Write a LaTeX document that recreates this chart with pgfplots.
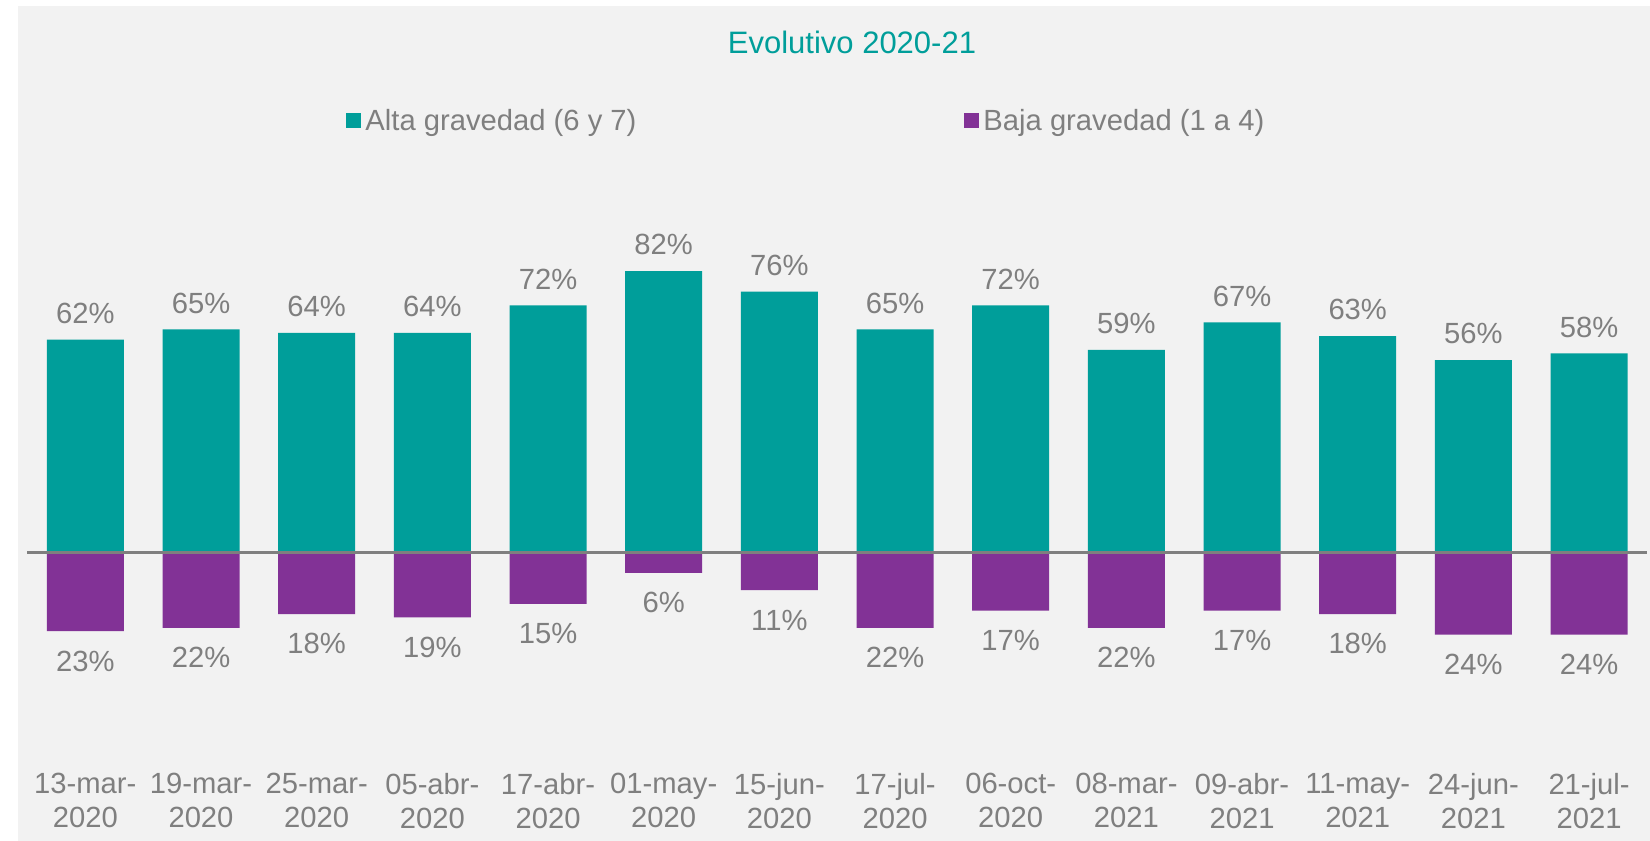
\documentclass[border=0pt]{standalone}
\usepackage{pgfplots}
\pgfplotsset{compat=1.18}
\usepackage{fontspec}
\setmainfont{Liberation Sans}

\definecolor{alta}{RGB}{0,158,154}
\definecolor{baja}{RGB}{130,50,150}
\definecolor{txt}{RGB}{127,127,127}
\definecolor{fondo}{RGB}{242,242,242}

\begin{document}
\begin{tikzpicture}
% page and panel background
\fill[white] (0,0) rectangle (825pt,420.5pt);
\fill[fondo] (9pt,0) rectangle (825pt,417.5pt);
\node[anchor=base, text=alta, font=\fontsize{15.5}{18}\selectfont, inner sep=0pt]
  at (426pt,393.6pt) {Evolutivo 2020-21};

\begin{axis}[
    at={(13.75pt,92.9pt)}, anchor=south west,
    scale only axis,
    width=809.7pt, height=205.8pt,
    xmin=-0.5, xmax=13.5,
    ymin=-30, ymax=90,
    ybar, bar width=38.5pt, bar shift=0pt,
    axis line style={draw=none},
    tick style={draw=none},
    ytick=\empty,
    xtick={0,...,13},
    xticklabels={{13-mar-\\2020},{19-mar-\\2020},{25-mar-\\2020},{05-abr-\\2020},
        {17-abr-\\2020},{01-may-\\2020},{15-jun-\\2020},{17-jul-\\2020},
        {06-oct-\\2020},{08-mar-\\2021},{09-abr-\\2021},{11-may-\\2021},
        {24-jun-\\2021},{21-jul-\\2021}},
    xticklabel style={align=center, font=\fontsize{14.6}{17.2}\selectfont,
        text=txt, anchor=north, yshift=-54.4pt, inner sep=0pt},
    clip=false,
    /pgf/number format/assume math mode=true,
    nodes near coords={\pgfmathprintnumber{\pgfplotspointmeta}\%},
    every node near coord/.append style={font=\fontsize{14.6}{16.5}\selectfont,
        text=txt, inner sep=0pt},
    legend columns=2,
    legend image code/.code={\fill[#1] (0pt,-3.75pt) rectangle (7.5pt,3.75pt);},
    legend style={at={(0.1967,1.298)}, anchor=west, draw=none, fill=none,
        inner sep=0pt, font=\fontsize{14.6}{16.5}\selectfont, text=txt,
        /tikz/every even column/.append style={column sep=162pt}},
    legend cell align=left,
]
\addplot[fill=alta, draw=none, every node near coord/.append style={yshift=7.8pt}]
  coordinates {(0,62) (1,65) (2,64) (3,64) (4,72) (5,82) (6,76)
               (7,65) (8,72) (9,59) (10,67) (11,63) (12,56) (13,58)};
\addplot[fill=baja, draw=none, point meta=explicit,
         every node near coord/.append style={yshift=-20.3pt}]
  coordinates {(0,-23) [23] (1,-22) [22] (2,-18) [18] (3,-19) [19]
               (4,-15) [15] (5,-6) [6] (6,-11) [11] (7,-22) [22]
               (8,-17) [17] (9,-22) [22] (10,-17) [17] (11,-18) [18]
               (12,-24) [24] (13,-24) [24]};
\legend{Alta gravedad (6 y 7), Baja gravedad (1 a 4)}
\draw[txt, line width=1.35pt] (axis cs:-0.5,0) -- (axis cs:13.5,0);
\end{axis}
\end{tikzpicture}
\end{document}
